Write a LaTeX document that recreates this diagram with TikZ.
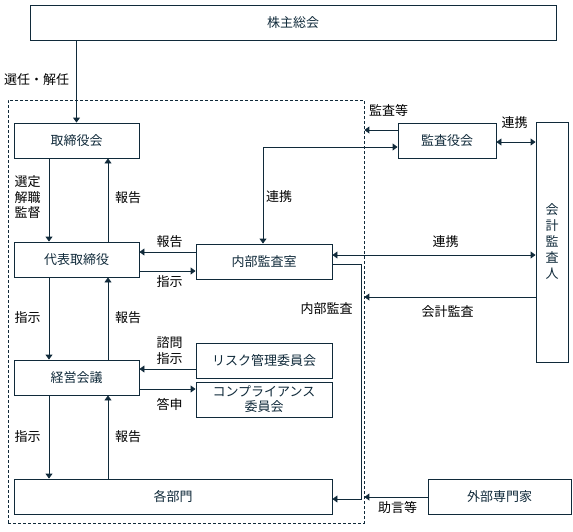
\documentclass[tikz,border=0pt]{standalone}
\usepackage{fontspec}
\setmainfont{Noto Sans CJK JP}
\usetikzlibrary{arrows.meta}
\definecolor{navy}{RGB}{16,42,58}
\begin{document}
\begin{tikzpicture}[x=1pt,y=-1pt,
  box/.style={draw=navy, line width=0.9pt, text=navy, inner sep=0pt, align=center, font=\fontsize{13}{16}\selectfont},
  lbl/.style={font=\fontsize{13}{15.5}\selectfont, inner sep=0pt, align=center, text=black},
  arr/.style={draw=navy, line width=0.9pt, -{Triangle[width=7pt,length=5pt]}},
  barr/.style={draw=navy, line width=0.9pt, {Triangle[width=7pt,length=5pt]}-{Triangle[width=7pt,length=5pt]}},
  ln/.style={draw=navy, line width=0.9pt}
]
\useasboundingbox (0,0) rectangle (573,531);
% dashed frame
\node[draw=navy, line width=0.8pt, dash pattern=on 3pt off 2pt, minimum width=356pt, minimum height=423pt, inner sep=0pt] (dbox) at (186,311.5) {};
% boxes
\node[box, minimum width=526pt, minimum height=35pt] (kabu) at (293,22.5) {株主総会};
\node[box, minimum width=125pt, minimum height=35pt] (tori) at (76.5,140.5) {取締役会};
\node[box, minimum width=125pt, minimum height=35pt] (daihyo) at (76.5,259.5) {代表取締役};
\node[box, minimum width=136pt, minimum height=35pt] (naibu) at (264,261.5) {内部監査室};
\node[box, minimum width=98pt, minimum height=35pt] (kansa) at (447,140.5) {監査役会};
\node[box, minimum width=32pt, minimum height=240pt] (kaikei) at (552,242) {会\\計\\監\\査\\人};
\node[box, minimum width=125pt, minimum height=35pt] (keiei) at (76.5,377.5) {経営会議};
\node[box, minimum width=136pt, minimum height=35pt] (risk) at (264,360.5) {リスク管理委員会};
\node[box, minimum width=136pt, minimum height=35pt, font=\fontsize{13}{15}\selectfont] (comp) at (264,399.5) {コンプライアンス\\委員会};
\node[box, minimum width=318pt, minimum height=35pt] (kakubu) at (173,496.5) {各部門};
\node[box, minimum width=143pt, minimum height=35pt] (gaibu) at (499.5,496.5) {外部専門家};
% helper coordinates
\coordinate (xL) at (49,0);
\coordinate (xR) at (108,0);
\coordinate (cK) at (263,147);
\coordinate (yA) at (0,130);
\coordinate (yB) at (0,142);
\coordinate (yC) at (0,252);
\coordinate (yD) at (0,271);
\coordinate (yE) at (0,255);
\coordinate (yF) at (0,297);
\coordinate (yG) at (0,264);
\coordinate (cI1) at (361,264);
\coordinate (cI2) at (361,499);
\coordinate (yH) at (0,497);
\coordinate (yI) at (0,369);
\coordinate (yJ) at (0,389);
% connectors
\draw[arr] (kabu.south -| tori.north) -- (tori.north);
\draw[arr] (tori.south -| xL) -- (daihyo.north -| xL);
\draw[arr] (daihyo.north -| xR) -- (tori.south -| xR);
\draw[arr] (naibu.west |- yC) -- (daihyo.east |- yC);
\draw[arr] (daihyo.east |- yD) -- (naibu.west |- yD);
\draw[barr] (kansa.west |- cK) -- (cK) -- (naibu.north -| cK);
\draw[arr] (kansa.west |- yA) -- (dbox.east |- yA);
\draw[barr] (kansa.east |- yB) -- (kaikei.west |- yB);
\draw[barr] (naibu.east |- yE) -- (kaikei.west |- yE);
\draw[arr] (kaikei.west |- yF) -- (dbox.east |- yF);
\draw[arr] (naibu.east |- yG) -- (cI1) -- (cI2) -- (kakubu.east |- cI2);
\draw[arr] (gaibu.west |- yH) -- (dbox.east |- yH);
\draw[arr] (daihyo.south -| xL) -- (keiei.north -| xL);
\draw[arr] (keiei.north -| xR) -- (daihyo.south -| xR);
\draw[arr] (risk.west |- yI) -- (keiei.east |- yI);
\draw[arr] (keiei.east |- yJ) -- (comp.west |- yJ);
\draw[arr] (keiei.south -| xL) -- (kakubu.north -| xL);
\draw[arr] (kakubu.north -| xR) -- (keiei.south -| xR);
% labels
\node[lbl, anchor=west] (l1) at (4,80) {選任・解任};
\node[lbl] (l2) at (27.5,197.5) {選定\\解職\\監督};
\node[lbl] (l3) at (128,198) {報告};
\node[lbl] (l4) at (279,197) {連携};
\node[lbl] (l5) at (169.5,242) {報告};
\node[lbl] (l6) at (169.5,282) {指示};
\node[lbl] (l7) at (27.5,318) {指示};
\node[lbl] (l8) at (128,318) {報告};
\node[lbl] (l9) at (326.5,309) {内部監査};
\node[lbl] (l10) at (169.5,350.5) {諮問\\指示};
\node[lbl] (l11) at (169.5,404) {答申};
\node[lbl] (l12) at (27.5,437) {指示};
\node[lbl] (l13) at (128,437) {報告};
\node[lbl] (l14) at (388.5,111) {監査等};
\node[lbl] (l15) at (514.5,123) {連携};
\node[lbl] (l16) at (445.5,242) {連携};
\node[lbl] (l17) at (447.5,312) {会計監査};
\node[lbl] (l18) at (397.5,508) {助言等};
\end{tikzpicture}
\end{document}
